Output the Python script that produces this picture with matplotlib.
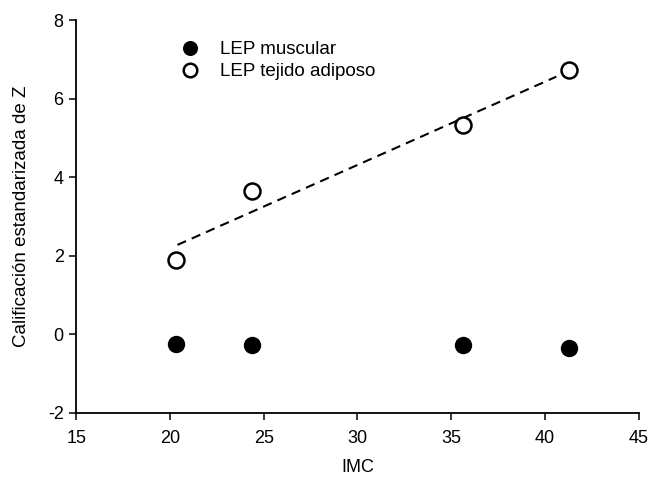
import numpy as np
import matplotlib
matplotlib.use('Agg')
import matplotlib.pyplot as plt

plt.rcParams['font.family'] = ['Liberation Sans', 'DejaVu Sans']
plt.rcParams['axes.unicode_minus'] = False

imc = [20.3, 24.4, 35.6, 41.3]
lep_muscular = [-0.25, -0.27, -0.27, -0.35]
lep_adiposo = [1.88, 3.65, 5.33, 6.73]
fit_range = [20.4, 40.6]

fig = plt.figure(figsize=(6.62, 4.79), dpi=100)
ax = fig.add_axes([0.115, 0.138, 0.850, 0.820])

# regression line for adipose tissue
slope, intercept = np.polyfit(imc, lep_adiposo, 1)
xs = np.array(fit_range)
ax.plot(xs, slope * xs + intercept, color='black', linestyle=(0, (4.5, 3)), linewidth=1.5, zorder=1)

ax.plot(imc, lep_muscular, 'o', color='black', markersize=11.5, linestyle='none',
        label='LEP muscular', zorder=3)
ax.plot(imc, lep_adiposo, 'o', markerfacecolor='white', markeredgecolor='black',
        markeredgewidth=1.8, markersize=11.5, linestyle='none',
        label='LEP tejido adiposo', zorder=3)

ax.set_xlim(15, 45)
ax.set_ylim(-2, 8)
ax.set_xticks([15, 20, 25, 30, 35, 40, 45])
ax.set_yticks([-2, 0, 2, 4, 6, 8])
ax.spines['top'].set_visible(False)
ax.spines['right'].set_visible(False)
ax.spines['left'].set_linewidth(1.3)
ax.spines['bottom'].set_linewidth(1.3)
ax.tick_params(direction='out', length=5, width=1.1, labelsize=13)
ax.tick_params(axis='x', pad=7)
ax.tick_params(axis='y', pad=4)

ax.set_xlabel('IMC', fontsize=13, labelpad=9)
ax.set_ylabel('Calificación estandarizada de Z', fontsize=13.5, labelpad=13)

ax.legend(loc='upper left', bbox_to_anchor=(0.155, 0.965), frameon=False,
          fontsize=13.5, handletextpad=0.6, borderaxespad=0, labelspacing=0.25,
          markerscale=0.85)

fig.savefig('out.png', dpi=100)
